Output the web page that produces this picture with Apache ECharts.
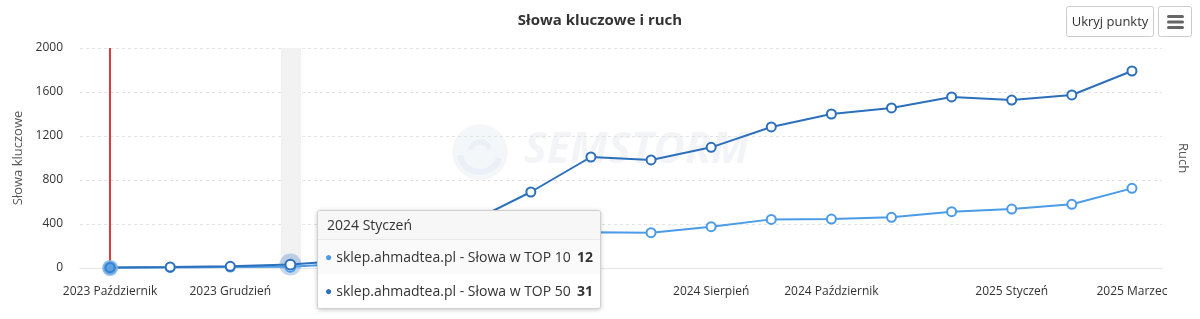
<!DOCTYPE html>
<html>
<head>
<meta charset="utf-8">
<script src="https://cdn.jsdelivr.net/npm/echarts@6/dist/echarts.min.js"></script>
<style>
html,body{margin:0;padding:0;background:#fff;}
#chart{width:1200px;height:319px;}
</style>
</head>
<body>
<div id="chart"></div>
<script>
const categories = ['2023 Październik','2023 Listopad','2023 Grudzień','2024 Styczeń','2024 Luty','2024 Marzec','2024 Kwiecień','2024 Maj','2024 Czerwiec','2024 Lipiec','2024 Sierpień','2024 Wrzesień','2024 Październik','2024 Listopad','2024 Grudzień','2025 Styczeń','2025 Luty','2025 Marzec'];
const top10 = [3, 5, 8, 12, 40, 110, 200, 290, 325, 321, 376, 442, 445, 461, 512, 536, 579, 724];
const top50 = [5, 8, 15, 31, 70, 200, 420, 691, 1009, 982, 1097, 1282, 1400, 1455, 1555, 1527, 1573, 1791];
const seriesNames = ['sklep.ahmadtea.pl - Słowa w TOP 10', 'sklep.ahmadtea.pl - Słowa w TOP 50'];
const shownLabels = [0, 2, 4, 6, 10, 12, 15, 17];
const yTicks = [0, 400, 800, 1200, 1600, 2000];
const hoverIndex = 3;
const eventIndex = 0;

const FONT = '"Open Sans", sans-serif';
const LIGHT = '#4b9be6';
const DARK = '#2c6fbb';

const chart = echarts.init(document.getElementById('chart'), null, {renderer: 'canvas'});

function lineSeries(name, data, color) {
  return {
    name: name, type: 'line', data: data, z: 3,
    symbol: 'circle', symbolSize: 9, showAllSymbol: true,
    lineStyle: {color: color, width: 2},
    itemStyle: {color: '#fff', borderColor: color, borderWidth: 2},
    emphasis: {disabled: true}
  };
}

const option = {
  animation: false,
  textStyle: {fontFamily: FONT},
  title: {
    text: 'Słowa kluczowe i ruch', left: 'center', top: 8,
    textStyle: {fontFamily: FONT, fontSize: 15, fontWeight: 'bold', color: '#333'}
  },
  grid: {left: 80, right: 38, top: 48, bottom: 51},
  tooltip: {
    trigger: 'axis', triggerOn: 'none', alwaysShowContent: true,
    axisPointer: {type: 'none'},
    position: [317, 210], padding: 0, borderWidth: 1, borderColor: '#d0d0d0',
    backgroundColor: '#fff', transitionDuration: 0,
    extraCssText: 'box-shadow:0 1px 4px rgba(0,0,0,0.22);border-radius:3px;overflow:hidden;',
    formatter: function (params) {
      const idx = params[0].dataIndex;
      const rows = [
        {c: LIGHT, n: seriesNames[0], v: top10[idx], bg: '#fafafa'},
        {c: DARK, n: seriesNames[1], v: top50[idx], bg: '#ffffff'}
      ];
      let h = '<div style="width:282px;font-family:' + FONT.replace(/"/g, "'") + ';color:#333;font-size:14px;">';
      h += '<div style="height:28px;line-height:28px;padding-left:9px;background:#f7f7f7;border-bottom:1px solid #e8e8e8;">' + categories[idx] + '</div>';
      rows.forEach(function (r) {
        h += '<div style="height:34px;line-height:34px;padding:0 7px 0 7px;background:' + r.bg + ';display:flex;">' +
          '<span style="color:' + r.c + ';font-size:12px;margin-right:4px;">●</span>' +
          '<span style="flex:1;">' + r.n + '</span>' +
          '<span style="font-weight:bold;">' + r.v + '</span></div>';
      });
      h += '</div>';
      return h;
    }
  },
  xAxis: {
    type: 'category', data: categories, boundaryGap: true,
    axisLine: {lineStyle: {color: '#e6e6e6'}},
    axisTick: {show: false},
    axisLabel: {
      color: '#333', fontSize: 12, margin: 18, fontFamily: FONT,
      interval: function (i) { return shownLabels.indexOf(i) >= 0; }
    }
  },
  yAxis: [{
    type: 'value', min: yTicks[0], max: yTicks[yTicks.length - 1], interval: 400,
    name: 'Słowa kluczowe', nameLocation: 'middle', nameGap: 53, nameRotate: 90,
    nameTextStyle: {color: '#555', fontSize: 13, fontFamily: FONT},
    axisLine: {show: false}, axisTick: {show: false},
    axisLabel: {color: '#333', fontSize: 12, margin: 17, fontFamily: FONT, formatter: function (v) { return String(v); }},
    splitLine: {lineStyle: {color: '#e3e3e3', type: [3, 3]}}
  }, {
    type: 'value', min: 0, max: 1, position: 'right',
    name: 'Ruch', nameLocation: 'middle', nameGap: 14, nameRotate: -90,
    nameTextStyle: {color: '#555', fontSize: 13, fontFamily: FONT},
    axisLine: {show: false}, axisTick: {show: false}, axisLabel: {show: false},
    splitLine: {show: false}
  }],
  graphic: [
    {
      type: 'group', left: 452, top: 124, z: 0, silent: true,
      children: [
        {type: 'circle', shape: {cx: 32, cy: 28, r: 28}, style: {fill: '#f4f7fa'}},
        {type: 'arc', shape: {cx: 32, cy: 28, r: 20, startAngle: 0.3, endAngle: 3.0}, style: {stroke: '#ebf0f6', lineWidth: 6, fill: null}},
        {type: 'arc', shape: {cx: 32, cy: 28, r: 10, startAngle: 3.4, endAngle: 6.0}, style: {stroke: '#ebf0f6', lineWidth: 5, fill: null}},
        {type: 'text', x: 76, y: 5, style: {text: 'SEMSTORM', fontSize: 43, fontWeight: 'bold', fontStyle: 'italic', fontFamily: FONT, fill: '#f2f4f8'}}
      ]
    },
    {
      type: 'group', left: 1066, top: 6, z: 100,
      children: [
        {type: 'rect', shape: {x: 0.5, y: 0.5, width: 87, height: 30, r: 2}, style: {fill: '#fff', stroke: '#cccccc', lineWidth: 1}},
        {type: 'text', x: 44, y: 16, style: {text: 'Ukryj punkty', fontSize: 13, fontFamily: FONT, fill: '#333', align: 'center', verticalAlign: 'middle'}},
        {type: 'rect', shape: {x: 92.5, y: 0.5, width: 33, height: 30, r: 2}, style: {fill: '#fff', stroke: '#cccccc', lineWidth: 1}},
        {type: 'rect', shape: {x: 101, y: 9, width: 17, height: 3, r: 1.5}, style: {fill: '#666'}},
        {type: 'rect', shape: {x: 101, y: 14.5, width: 17, height: 3, r: 1.5}, style: {fill: '#666'}},
        {type: 'rect', shape: {x: 101, y: 20, width: 17, height: 3, r: 1.5}, style: {fill: '#666'}}
      ]
    }
  ],
  series: [
    lineSeries(seriesNames[0], top10, LIGHT),
    lineSeries(seriesNames[1], top50, DARK),
    {
      name: 'band', type: 'line', data: [], z: 1, silent: true, tooltip: {show: false},
      markLine: {
        z: 1, silent: true, symbol: 'none', label: {show: false}, animation: false,
        data: [
          {xAxis: categories[hoverIndex], lineStyle: {color: '#f2f2f2', width: 20, type: 'solid'}},
          {xAxis: categories[eventIndex], lineStyle: {color: '#e53935', width: 2, type: 'solid'}}
        ]
      }
    },
    {
      name: 'halo', type: 'scatter', z: 2, silent: true, tooltip: {show: false},
      data: [[categories[hoverIndex], top50[hoverIndex]]],
      symbolSize: 22, itemStyle: {color: 'rgba(44,111,187,0.35)'}
    },
    {
      name: 'event', type: 'scatter', z: 5, silent: true, tooltip: {show: false},
      data: [[categories[eventIndex], 0]],
      symbol: 'circle', symbolSize: 14,
      itemStyle: {color: '#3b8ad8', borderColor: '#7fb6ea', borderWidth: 2}
    }
  ]
};
chart.setOption(option);
chart.dispatchAction({type: 'showTip', seriesIndex: 1, dataIndex: hoverIndex});
</script>
</body>
</html>
